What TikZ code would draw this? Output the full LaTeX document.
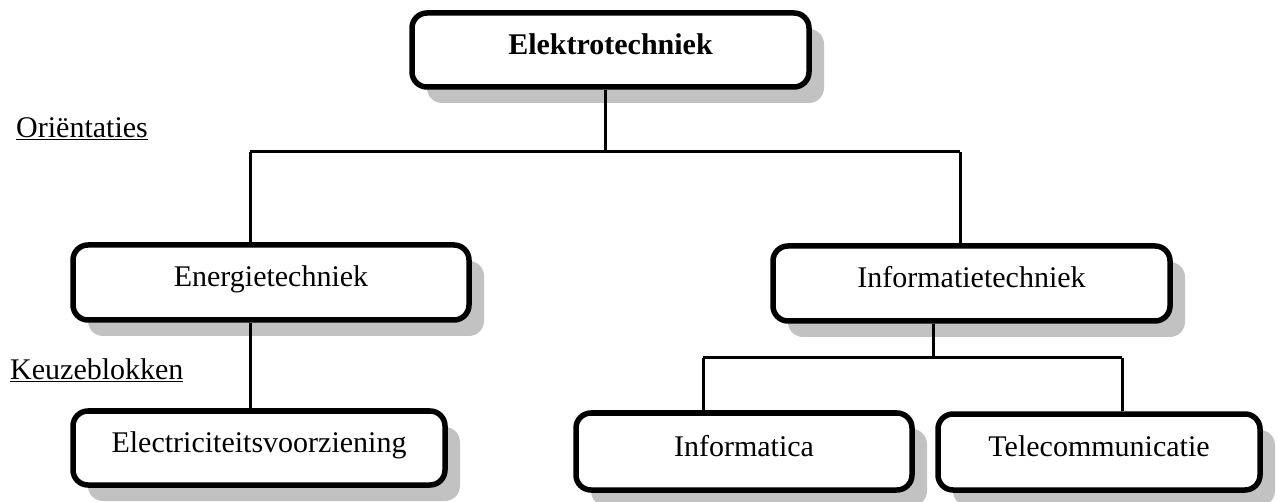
\documentclass[tikz,border=0pt]{standalone}
\usepackage{fontspec}
\setmainfont{Liberation Serif}
\usetikzlibrary{shadows}
\begin{document}
\begin{tikzpicture}[x=1pt,y=-1pt,
  box/.style={draw=black, line width=5.5pt, rounded corners=15pt, fill=white,
    inner sep=0pt, align=center, text height=20pt, text depth=11pt,
    font=\fontsize{30}{36}\selectfont,
    drop shadow={shadow xshift=15pt, shadow yshift=-16pt, fill=black!24, opacity=1}},
  conn/.style={draw=black, line width=3pt},
  lbl/.style={anchor=base west, inner sep=0pt, font=\fontsize{30}{36}\selectfont}]
\useasboundingbox (0,0) rectangle (1277,502);

\node[box, minimum width=397pt, minimum height=74pt] (E) at (610.5,50) {\textbf{Elektrotechniek}};
\node[box, minimum width=396pt, minimum height=75pt] (En) at (271,282.5) {Energietechniek};
\node[box, minimum width=397pt, minimum height=75pt] (In) at (971.5,283.5) {Informatietechniek};
\node[box, minimum width=372pt, minimum height=74pt] (El) at (259,448) {Electriciteitsvoorziening};
\node[box, minimum width=336pt, minimum height=77pt] (Ia) at (744,451.5) {Informatica};
\node[box, minimum width=322pt, minimum height=76pt] (T) at (1099,452) {Telecommunicatie};

\node[lbl] (or) at (16,138) {\underline{Oriëntaties}};
\node[lbl] (kb) at (10,380) {\underline{Keuzeblokken}};

\coordinate (j1) at (605,152);
\coordinate (jl) at (250,152);
\coordinate (jr) at (960,152);
\coordinate (j2) at (933,358);
\coordinate (kl) at (703,358);
\coordinate (kr) at (1122,358);

\begin{scope}[on background layer/.style={}]
\draw[conn] (E.south -| j1) -- (j1);
\draw[conn] (jl) -- (jr);
\draw[conn] (jl) -- (En.north -| jl);
\draw[conn] (jr) -- (In.north -| jr);
\draw[conn] (En.south -| jl) -- (El.north -| jl);
\draw[conn] (In.south -| j2) -- (j2);
\draw[conn] (kl) -- (kr);
\draw[conn] (kl) -- (Ia.north -| kl);
\draw[conn] (kr) -- (T.north -| kr);
\end{scope}
\end{tikzpicture}
\end{document}
